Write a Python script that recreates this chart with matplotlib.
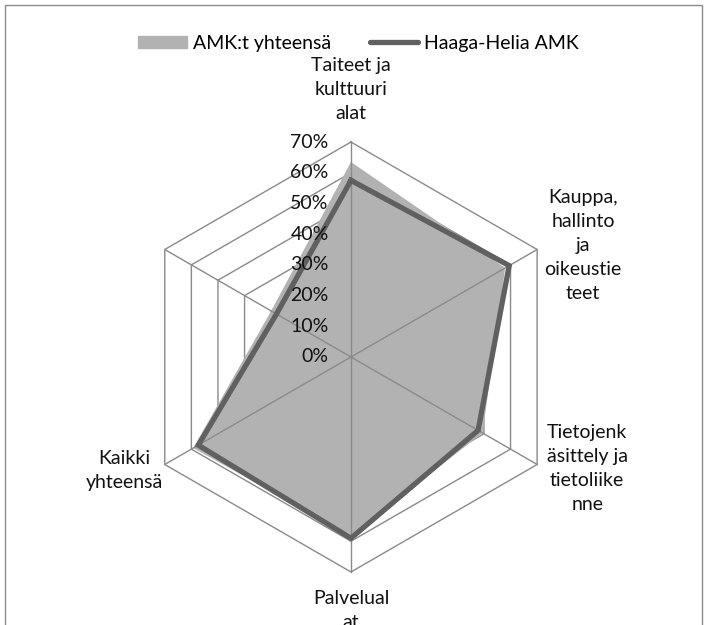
"""
Radar chart: AMK:t yhteensä vs Haaga-Helia AMK by field of study.
"""

import numpy as np
import matplotlib.pyplot as plt
import matplotlib.patches as mpatches
from matplotlib.lines import Line2D

plt.rcParams['font.family'] = ['Lato', 'DejaVu Sans']

categories = [
    "Taiteet ja\nkulttuuri\nalat",
    "Kauppa,\nhallinto\nja\noikeustie\nteet",
    "Tietojenk\näsittely ja\ntietoliike\nnne",
    "Palvelual\nat",
    "Kaikki\nyhteensä",
    "",
]
amk_total = [0.635, 0.58, 0.495, 0.58, 0.593, 0.30]
haaga_helia = [0.575, 0.595, 0.478, 0.59, 0.574, 0.28]
ring_levels = [0.0, 0.1, 0.2, 0.3, 0.4, 0.5, 0.6, 0.7]
ring_labels = ["0%", "10%", "20%", "30%", "40%", "50%", "60%", "70%"]

# label offsets (points) from each outer vertex
label_offsets = [(0, 38), (33, 3), (36, -3), (0, -28), (-29, -4), (0, 0)]

FILL = "#b2b2b2"
LINE = "#606060"
GRID = "#8a8a8a"
FS = 14

n = len(categories)
theta = np.arange(n) * 2 * np.pi / n
theta_c = np.append(theta, theta[0])

fig = plt.figure(figsize=(7.06, 6.25), dpi=100)
ax = fig.add_axes([0.1926, 0.0848, 0.609, 0.688], projection="polar")
ax.set_theta_offset(np.pi / 2)
ax.set_theta_direction(-1)
ax.set_ylim(0, 0.7)
ax.axis("off")

# hexagonal rings (under the fill)
for r in ring_levels[1:]:
    ax.plot(theta_c, [r] * (n + 1), color=GRID, lw=1.0, zorder=1,
            clip_on=False)

# AMK:t yhteensä - filled area
ax.fill(theta_c, amk_total + amk_total[:1], color=FILL, lw=0, zorder=2)

# spokes on top of the fill
for t in theta:
    ax.plot([t, t], [0, 0.7], color=GRID, lw=1.0, zorder=3, clip_on=False)

# Haaga-Helia AMK - thick line
ax.plot(theta_c, haaga_helia + haaga_helia[:1], color=LINE, lw=3.8,
        solid_joinstyle="miter", zorder=4, clip_on=False)

# radial value labels along the top spoke
for r, lab in zip(ring_levels, ring_labels):
    ax.annotate(lab, xy=(0, r), xytext=(-16, 0), textcoords="offset points",
                ha="right", va="center", fontsize=FS, color="#111111",
                annotation_clip=False, zorder=5)

# category labels
for t, lab, off in zip(theta, categories, label_offsets):
    if not lab:
        continue
    ax.annotate(lab, xy=(t, 0.7), xytext=off, textcoords="offset points",
                ha="center", va="center", fontsize=FS, color="#111111",
                linespacing=1.5, annotation_clip=False)

handles = [
    mpatches.Patch(color=FILL, label="AMK:t yhteensä"),
    Line2D([0], [0], color=LINE, lw=3.8, solid_capstyle="round",
           label="Haaga-Helia AMK"),
]
fig.legend(handles=handles, loc="center", bbox_to_anchor=(0.508, 0.931),
           ncol=2, frameon=False, fontsize=FS, handlelength=2.5,
           handletextpad=0.3, columnspacing=2.0, handleheight=0.6)

# outer chart border (bottom edge falls outside the image)
fig.patches.append(mpatches.Rectangle(
    (5 / 706, -0.05), 697 / 706, 1.05 - 5 / 625, transform=fig.transFigure,
    fill=False, edgecolor=GRID, lw=1.0))

plt.savefig("out.png", dpi=100)
plt.close()
